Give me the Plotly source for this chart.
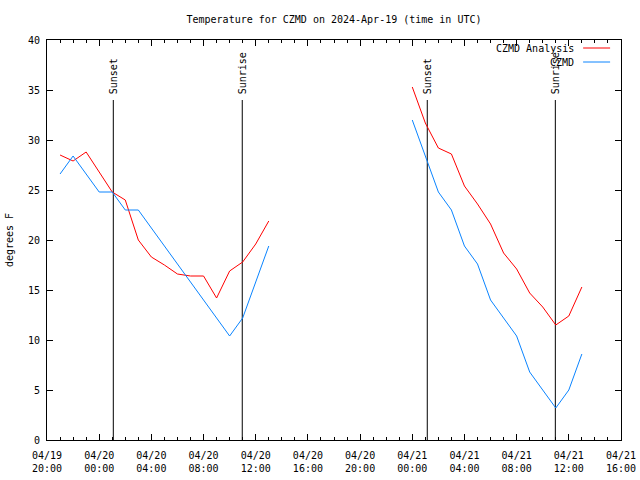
import plotly.graph_objects as go

# ---- data ----
times_a = ["2024-04-19 21:00", "2024-04-19 22:00", "2024-04-19 23:00", "2024-04-20 00:00",
           "2024-04-20 01:00", "2024-04-20 02:00", "2024-04-20 03:00", "2024-04-20 04:00",
           "2024-04-20 05:00", "2024-04-20 06:00", "2024-04-20 07:00", "2024-04-20 08:00",
           "2024-04-20 09:00", "2024-04-20 10:00", "2024-04-20 11:00", "2024-04-20 12:00",
           "2024-04-20 13:00"]
times_b = ["2024-04-21 00:00", "2024-04-21 01:00", "2024-04-21 02:00", "2024-04-21 03:00",
           "2024-04-21 04:00", "2024-04-21 05:00", "2024-04-21 06:00", "2024-04-21 07:00",
           "2024-04-21 08:00", "2024-04-21 09:00", "2024-04-21 10:00", "2024-04-21 11:00",
           "2024-04-21 12:00", "2024-04-21 13:00"]

analysis_a = [28.5, 27.9, 28.8, 26.8, 24.8, 24.0, 20.0, 18.3, 17.5, 16.6, 16.4, 16.4,
              14.2, 16.9, 17.8, 19.6, 21.9]
analysis_b = [35.3, 31.7, 29.2, 28.6, 25.4, 23.6, 21.6, 18.7, 17.1, 14.7, 13.3, 11.5,
              12.4, 15.3]

obs_a = [26.6, 28.4, 26.6, 24.8, 24.8, 23.0, 23.0, 21.2, 19.4, 17.6, 15.8, 14.0,
         12.2, 10.4, 12.2, 15.8, 19.4]
obs_b = [32.0, 28.4, 24.8, 23.0, 19.4, 17.6, 14.0, 12.2, 10.4, 6.8, 5.0, 3.2,
         5.0, 8.6]

sun_times = ["2024-04-20 01:05", "2024-04-20 10:58", "2024-04-21 01:09", "2024-04-21 10:58"]
sun_labels = ["Sunset", "Sunrise", "Sunset", "Sunrise"]
sun_line_top = 34

tick_vals = ["2024-04-19 20:00", "2024-04-20 00:00", "2024-04-20 04:00", "2024-04-20 08:00",
             "2024-04-20 12:00", "2024-04-20 16:00", "2024-04-20 20:00", "2024-04-21 00:00",
             "2024-04-21 04:00", "2024-04-21 08:00", "2024-04-21 12:00", "2024-04-21 16:00"]
tick_text = ["04/19<br>20:00", "04/20<br>00:00", "04/20<br>04:00", "04/20<br>08:00",
             "04/20<br>12:00", "04/20<br>16:00", "04/20<br>20:00", "04/21<br>00:00",
             "04/21<br>04:00", "04/21<br>08:00", "04/21<br>12:00", "04/21<br>16:00"]

RED = "#ff0000"
BLUE = "#0a84ff"
FONT = "DejaVu Sans Mono"
FS = 10

fig = go.Figure()

for t, lab in zip(sun_times, sun_labels):
    fig.add_trace(go.Scatter(x=[t, t], y=[0, sun_line_top], mode="lines",
                             line=dict(color="black", width=1), showlegend=False,
                             hoverinfo="skip"))
    fig.add_annotation(x=t, y=sun_line_top, xref="x", yref="y", text=lab,
                       textangle=-90, showarrow=False, yanchor="bottom", xanchor="center",
                       yshift=4, font=dict(family=FONT, size=FS, color="black"))

fig.add_trace(go.Scatter(x=times_a + [None] + times_b,
                         y=analysis_a + [None] + analysis_b,
                         mode="lines", line=dict(color=RED, width=1),
                         name="CZMD Analysis", connectgaps=False, showlegend=False))
fig.add_trace(go.Scatter(x=times_a + [None] + times_b,
                         y=obs_a + [None] + obs_b,
                         mode="lines", line=dict(color=BLUE, width=1),
                         name="CZMD", connectgaps=False, showlegend=False))

# gnuplot-style key (text on the left, line sample on the right)
for i, (name, col) in enumerate([("CZMD Analysis", RED), ("CZMD", BLUE)]):
    ypos = 0.98 - i * 0.035
    fig.add_annotation(x=0.922, y=ypos, xref="paper", yref="paper", text=name,
                       showarrow=False, xanchor="right", yanchor="middle",
                       font=dict(family=FONT, size=FS, color="black"))
    fig.add_shape(type="line", xref="paper", yref="paper", x0=0.934, x1=0.981,
                  y0=ypos, y1=ypos, line=dict(color=col, width=1))

fig.update_layout(
    width=640, height=480,
    margin=dict(l=47, r=19, t=40, b=40),
    plot_bgcolor="white", paper_bgcolor="white",
    font=dict(family=FONT, size=FS, color="black"),
    title=dict(text="Temperature for CZMD on 2024-Apr-19 (time in UTC)",
               x=0.5, xref="paper", y=1 - 19 / 480, yref="container",
               xanchor="center", yanchor="middle",
               font=dict(family=FONT, size=FS, color="black")),
    showlegend=False,
)

fig.update_xaxes(
    type="date", automargin=False,
    range=["2024-04-19 20:00", "2024-04-21 16:00"],
    tickvals=tick_vals, ticktext=tick_text,
    ticks="inside", ticklen=6, tickcolor="black", tickwidth=1,
    showline=True, linecolor="black", linewidth=1, mirror="allticks",
    showgrid=False, zeroline=False,
    minor=dict(dtick=3600000, ticks="inside", ticklen=3, tickcolor="black", showgrid=False),
    tickfont=dict(family=FONT, size=FS, color="black"),
    ticklabelstandoff=6,
)
fig.update_yaxes(
    range=[0, 40], dtick=5, tick0=0, automargin=False,
    ticks="inside", ticklen=6, tickcolor="black", tickwidth=1,
    showline=True, linecolor="black", linewidth=1, mirror="allticks",
    showgrid=False, zeroline=False,
    tickfont=dict(family=FONT, size=FS, color="black"),
    ticklabelstandoff=4,
    title=dict(text="degrees F", standoff=12, font=dict(family=FONT, size=FS, color="black")),
)

fig.write_html("out.html", config={"displayModeBar": False},
               post_script="document.body.style.margin='0';document.body.style.overflow='hidden';")
